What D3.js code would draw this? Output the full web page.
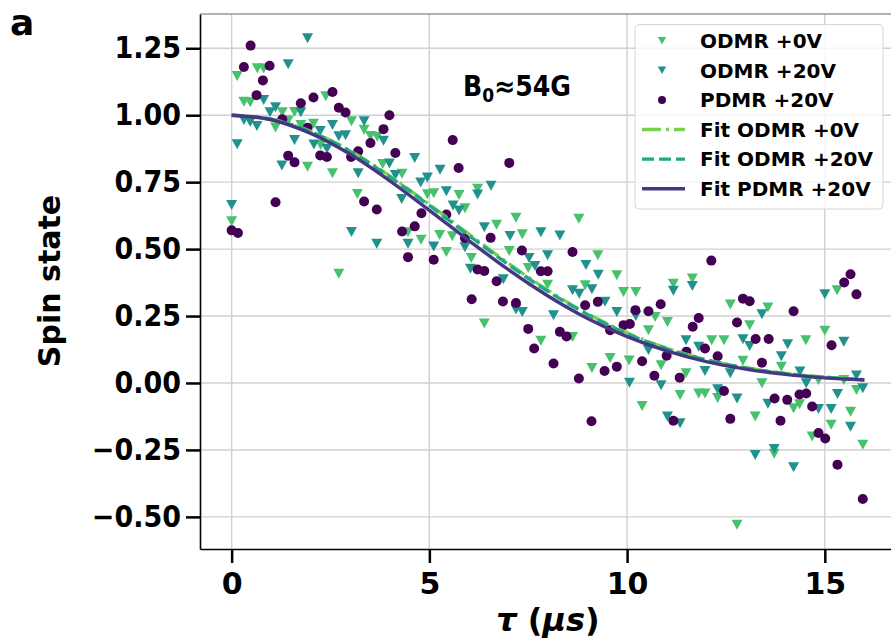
<!DOCTYPE html>
<html>
<head>
<meta charset="utf-8">
<script src="https://cdn.jsdelivr.net/npm/d3@7"></script>
<style>
  body { margin: 0; background: #fff; }
  svg { display: block; font-family: "DejaVu Sans", sans-serif; font-weight: bold; }
</style>
</head>
<body>
<div id="chart"></div>
<script>
// tau in us, spin state
const tauOdmr0 = [0.00, 0.14, 0.31, 0.47, 0.65, 0.81, 1.11, 1.28, 1.43, 1.59, 1.75, 1.92, 2.07, 2.25, 2.38, 2.55, 2.71, 3.03, 3.18, 3.35, 3.51, 3.68, 3.82, 4.31, 4.46, 4.79, 4.95, 5.11, 5.26, 5.43, 5.58, 5.75, 5.90, 6.06, 6.22, 6.39, 6.70, 7.02, 7.19, 7.35, 7.50, 7.82, 7.99, 8.62, 8.78, 8.94, 9.11, 9.26, 9.57, 9.74, 9.91, 10.05, 10.22, 10.38, 10.54, 10.71, 10.86, 11.02, 11.17, 11.34, 11.49, 11.65, 11.81, 11.97, 12.14, 12.29, 12.45, 12.61, 12.78, 12.93, 13.10, 13.24, 13.41, 13.56, 13.72, 13.90, 14.21, 14.36, 14.52, 14.68, 14.84, 15.00, 15.16, 15.31, 15.48, 15.65, 15.80, 15.96]
const spinOdmr0 = [0.604, 1.146, 1.05, 1.048, 1.175, 1.174, 0.954, 1.011, 0.98, 1.012, 0.963, 0.808, 0.968, 0.889, 1.071, 0.783, 0.408, 0.977, 0.706, 0.946, 0.922, 0.92, 0.818, 0.781, 0.563, 0.535, 0.705, 0.709, 0.553, 0.489, 0.548, 0.702, 0.653, 0.467, 0.725, 0.222, 0.591, 0.493, 0.617, 0.555, 0.429, 0.158, 0.367, 0.172, 0.613, 0.365, 0.056, 0.477, 0.093, 0.402, 0.34, 0.084, 0.34, -0.086, 0.197, 0.246, 0.066, 0.228, 0.371, -0.045, 0.036, 0.39, -0.039, -0.039, 0.16, -0.056, 0.16, 0.293, -0.529, 0.083, 0.216, -0.125, -0.001, 0.282, -0.264, 0.061, -0.094, -0.079, 0.16, -0.2, 0.011, 0.195, -0.156, 0.346, 0.011, -0.107, -0.026, -0.231]

const tauOdmr20 = [0.00, 0.14, 0.31, 0.47, 0.64, 0.81, 0.97, 1.11, 1.27, 1.43, 1.59, 1.75, 1.92, 2.08, 2.24, 2.41, 2.55, 2.71, 2.88, 3.03, 3.20, 3.35, 3.67, 3.84, 3.99, 4.14, 4.30, 4.46, 4.63, 4.78, 4.95, 5.11, 5.27, 5.43, 5.60, 5.75, 5.90, 6.04, 6.22, 6.39, 6.56, 6.87, 7.04, 7.19, 7.35, 7.52, 7.67, 7.82, 7.99, 8.14, 8.30, 8.62, 8.79, 8.96, 9.11, 9.27, 9.44, 9.74, 10.06, 10.22, 10.54, 10.86, 11.02, 11.17, 11.34, 11.49, 11.65, 11.81, 11.97, 12.29, 12.61, 12.78, 12.93, 13.10, 13.24, 13.41, 13.56, 13.72, 13.90, 14.06, 14.21, 14.37, 14.53, 14.84, 15.00, 15.16, 15.32, 15.48, 15.65, 15.80, 15.96]
const spinOdmr20 = [0.665, 0.892, 0.982, 0.975, 0.96, 1.057, 1.011, 1.03, 0.812, 1.19, 0.907, 1.011, 1.287, 0.891, 0.941, 0.875, 0.963, 0.921, 0.925, 0.564, 0.783, 0.977, 0.52, 0.905, 0.82, 0.777, 0.687, 0.52, 0.84, 0.749, 0.767, 0.51, 0.796, 0.716, 0.663, 0.644, 0.507, 0.427, 0.704, 0.582, 0.737, 0.387, 0.549, 0.274, 0.265, 0.467, 0.437, 0.563, 0.477, 0.253, 0.551, 0.346, 0.333, 0.441, 0.35, 0.404, 0.303, 0.265, 0.001, 0.25, 0.123, -0.008, -0.125, 0.344, -0.15, 0.16, 0.362, 0.135, 0.045, -0.023, 0.036, -0.058, 0.163, 0.138, -0.269, 0.257, -0.078, -0.247, 0.10, 0.145, -0.315, 0.043, -0.001, -0.097, 0.331, -0.097, -0.041, 0.154, -0.163, 0.028, -0.02]

const tauPdmr20 = [0.00, 0.16, 0.31, 0.48, 0.63, 0.79, 0.96, 1.11, 1.28, 1.43, 1.59, 1.75, 1.92, 2.07, 2.24, 2.41, 2.55, 2.71, 2.88, 3.02, 3.20, 3.35, 3.51, 3.67, 3.84, 3.99, 4.14, 4.31, 4.46, 4.63, 4.80, 5.11, 5.43, 5.59, 5.74, 5.90, 6.07, 6.22, 6.39, 6.55, 6.70, 6.86, 7.02, 7.19, 7.34, 7.50, 7.65, 7.82, 7.99, 8.14, 8.30, 8.47, 8.62, 8.78, 8.94, 9.10, 9.26, 9.43, 9.57, 9.74, 9.91, 10.07, 10.21, 10.38, 10.54, 10.69, 10.85, 11.00, 11.17, 11.33, 11.50, 11.66, 11.81, 11.97, 12.13, 12.29, 12.45, 12.61, 12.78, 12.93, 13.10, 13.25, 13.41, 13.58, 13.73, 13.88, 14.05, 14.21, 14.36, 14.53, 14.68, 14.84, 15.01, 15.17, 15.32, 15.49, 15.65, 15.80, 15.96]
const spinPdmr20 = [0.57, 0.56, 1.18, 1.26, 1.075, 1.13, 1.185, 0.675, 0.985, 0.849, 0.824, 1.045, 0.953, 1.066, 0.85, 0.844, 1.087, 1.028, 1.01, 0.844, 0.865, 0.678, 0.896, 0.648, 0.948, 1.00, 0.859, 0.566, 0.47, 0.585, 0.634, 0.46, 0.629, 0.907, 0.803, 0.541, 0.313, 0.424, 0.418, 0.542, 0.38, 0.304, 0.822, 0.299, 0.495, 0.202, 0.129, 0.417, 0.417, 0.073, 0.191, 0.174, 0.489, 0.017, 0.29, -0.143, 0.303, 0.045, 0.197, 0.061, 0.216, 0.22, 0.272, 0.081, 0.268, 0.027, 0.294, 0.102, -0.141, 0.02, 0.117, 0.21, 0.243, 0.129, 0.457, 0.10, -0.03, -0.134, 0.226, 0.315, 0.305, 0.164, 0.076, 0.164, -0.058, -0.141, -0.063, 0.268, -0.043, -0.039, -0.088, -0.187, -0.207, 0.141, -0.305, 0.375, 0.406, 0.331, -0.433]

// fit curves, read at whole microseconds
const fitTau = [0, 1, 2, 3, 4, 5, 6, 7, 8, 9, 10, 11, 12, 13, 14, 15, 16]
const fitOdmr0 = [1.0, 0.985, 0.940, 0.867, 0.773, 0.667, 0.556, 0.447, 0.346, 0.259, 0.187, 0.130, 0.087, 0.057, 0.036, 0.022, 0.013]
const fitOdmr20 = [1.0, 0.985, 0.939, 0.865, 0.770, 0.663, 0.551, 0.442, 0.342, 0.256, 0.184, 0.128, 0.086, 0.056, 0.035, 0.021, 0.012]
const fitPdmr20 = [1.0, 0.983, 0.932, 0.854, 0.755, 0.645, 0.532, 0.423, 0.325, 0.241, 0.173, 0.120, 0.080, 0.052, 0.032, 0.019, 0.011]

const xTicks = [0, 5, 10, 15]
const yTicks = [-0.5, -0.25, 0, 0.25, 0.5, 0.75, 1.0, 1.25]

const WIDTH = 891
const HEIGHT = 644
const margin = { top: 14, right: -5, bottom: 95, left: 200 }

const svg = d3.select("#chart")
  .append("svg")
    .attr("width", WIDTH)
    .attr("height", HEIGHT)

const x = d3.scaleLinear().domain([-0.8, 16.8]).range([margin.left, WIDTH - margin.right])
const y = d3.scaleLinear().domain([-0.62, 1.378]).range([HEIGHT - margin.bottom, margin.top])

const fmt = (d) => d3.format(".2f")(d).replace("-", "\u2212")

// grid
const grid = svg.append("g").attr("stroke", "#d0d0d0").attr("stroke-width", 1.4)
grid.selectAll(".gx").data(xTicks).join("line")
  .attr("x1", d => x(d)).attr("x2", d => x(d))
  .attr("y1", y.range()[0]).attr("y2", y.range()[1])
grid.selectAll(".gy").data(yTicks).join("line")
  .attr("x1", x.range()[0]).attr("x2", x.range()[1])
  .attr("y1", d => y(d)).attr("y2", d => y(d))

// axes
const xAxis = svg.append("g")
  .attr("transform", `translate(0,${y.range()[0]})`)
  .call(d3.axisBottom(x).tickValues(xTicks).tickFormat(d3.format("d")).tickSize(14).tickPadding(10).tickSizeOuter(0))
const yAxis = svg.append("g")
  .attr("transform", `translate(${x.range()[0]},0)`)
  .call(d3.axisLeft(y).tickValues(yTicks).tickFormat(fmt).tickSize(14).tickPadding(5).tickSizeOuter(0))

for (const ax of [xAxis, yAxis]) {
  ax.select(".domain").attr("stroke", "#000").attr("stroke-width", 1.6)
  ax.selectAll(".tick line").attr("stroke", "#000").attr("stroke-width", 2.5)
  ax.selectAll(".tick text")
    .attr("fill", "#000")
    .style("font-family", '"DejaVu Sans", sans-serif')
    .style("font-weight", "bold")
    .style("font-size", "30px")
}
xAxis.selectAll(".tick text").attr("dy", "0.71em")
yAxis.selectAll(".tick text").style("font-family", '"DejaVu Sans Condensed", "DejaVu Sans", sans-serif')

// top spine
svg.append("line")
  .attr("x1", x.range()[0]).attr("x2", x.range()[1])
  .attr("y1", y.range()[1]).attr("y2", y.range()[1])
  .attr("stroke", "#666").attr("stroke-width", 1.2)

// scatter
const drawTriangles = (tau, spin, color, cls) => {
  svg.append("g").selectAll(`path.${cls}`)
    .data(tau.map((t, i) => [t, spin[i]]))
    .join("path")
      .attr("class", cls)
      .attr("d", "M-5.5,-5L5.5,-5L0,5Z")
      .attr("transform", d => `translate(${x(d[0])},${y(d[1])})`)
      .attr("fill", color)
}
drawTriangles(tauOdmr0, spinOdmr0, "#48c16e", "o0")
drawTriangles(tauOdmr20, spinOdmr20, "#21918c", "o20")

svg.append("g").selectAll("circle")
  .data(tauPdmr20.map((t, i) => [t, spinPdmr20[i]]))
  .join("circle")
    .attr("cx", d => x(d[0]))
    .attr("cy", d => y(d[1]))
    .attr("r", 5)
    .attr("fill", "#440154")

// fits
const fitLine = (vals) => d3.line()
  .x((_, i) => x(fitTau[i]))
  .y(d => y(d))
  .curve(d3.curveCatmullRom)(vals)

const fits = [
  { vals: fitOdmr0, color: "#7ad151", dash: "19,5,3,5" },
  { vals: fitOdmr20, color: "#22a884", dash: "12,5" },
  { vals: fitPdmr20, color: "#453781", dash: null }
]
fits.forEach(f => {
  svg.append("path")
    .attr("d", fitLine(f.vals))
    .attr("fill", "none")
    .attr("stroke", f.color)
    .attr("stroke-width", 3.4)
    .attr("stroke-dasharray", f.dash)
})

// annotation
const ann = svg.append("text")
  .attr("x", 463).attr("y", 96)
  .style("font-family", '"DejaVu Sans Condensed", "DejaVu Sans", sans-serif')
  .style("font-size", "28px")
  .attr("fill", "#000")
ann.append("tspan").text("B")
ann.append("tspan").attr("dy", 6).style("font-size", "19px").text("0")
ann.append("tspan").attr("dy", -6).text("\u224854G")

// legend
const legendItems = [
  { label: "ODMR +0V", kind: "tri", color: "#48c16e" },
  { label: "ODMR +20V", kind: "tri", color: "#21918c" },
  { label: "PDMR +20V", kind: "dot", color: "#440154" },
  { label: "Fit ODMR +0V", kind: "line", color: "#7ad151", dash: "19,5,3,5" },
  { label: "Fit ODMR +20V", kind: "line", color: "#22a884", dash: "12,5" },
  { label: "Fit PDMR +20V", kind: "line", color: "#453781", dash: null }
]
const legend = svg.append("g")
legend.append("rect")
  .attr("x", 635).attr("y", 24.5)
  .attr("width", 248).attr("height", 184.5)
  .attr("rx", 4)
  .attr("fill", "#fff").attr("fill-opacity", 0.8)
  .attr("stroke", "#d6d6d6").attr("stroke-width", 1)

const rows = legend.selectAll(".row").data(legendItems).join("g")
  .attr("transform", (_, i) => `translate(0,${40.7 + i * 29.6})`)
rows.filter(d => d.kind === "tri").append("path")
  .attr("d", "M-4.2,-3.8L4.2,-3.8L0,3.8Z")
  .attr("transform", "translate(662,0)")
  .attr("fill", d => d.color)
rows.filter(d => d.kind === "dot").append("circle")
  .attr("cx", 662).attr("r", 4)
  .attr("fill", d => d.color)
rows.filter(d => d.kind === "line").append("line")
  .attr("x1", 642).attr("x2", 685)
  .attr("stroke", d => d.color)
  .attr("stroke-width", 3.4)
  .attr("stroke-dasharray", d => d.dash)
rows.append("text")
  .attr("x", 700).attr("dy", "0.36em")
  .style("font-size", "20px")
  .attr("fill", "#000")
  .text(d => d.label)

// axis labels
const xl = svg.append("text")
  .attr("x", 548).attr("y", 631)
  .attr("text-anchor", "middle")
  .style("font-size", "32px")
xl.append("tspan").style("font-style", "italic").text("\u03c4")
xl.append("tspan").text(" (")
xl.append("tspan").style("font-style", "italic").text("\u03bcs")
xl.append("tspan").text(")")

svg.append("text")
  .attr("transform", "translate(60,281) rotate(-90)")
  .attr("text-anchor", "middle")
  .style("font-size", "30px")
  .text("Spin state")

svg.append("text")
  .attr("x", 10).attr("y", 35)
  .style("font-size", "36px")
  .text("a")
</script>
</body>
</html>
